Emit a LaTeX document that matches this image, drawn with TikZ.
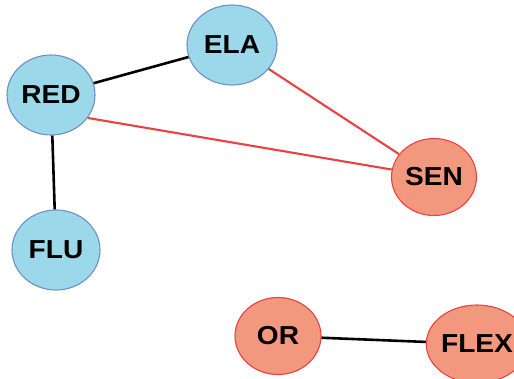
\documentclass[tikz,border=0pt]{standalone}
\usepackage{fontspec}
\setmainfont[FakeStretch=1.08]{Liberation Sans}
\usepackage{tikz}
\usetikzlibrary{shapes.geometric}
\definecolor{bluefill}{RGB}{155,216,234}
\definecolor{blueline}{RGB}{112,142,200}
\definecolor{redfill}{RGB}{242,152,126}
\definecolor{redline}{RGB}{232,66,66}
\tikzstyle{blue node}=[ellipse, draw=blueline, fill=bluefill, line width=1.1pt, inner sep=0pt,
  font=\fontsize{26}{26}\selectfont\bfseries]
\tikzstyle{red node}=[blue node, draw=redline, fill=redfill]
\tikzset{black edge/.style={line width=2.6pt, black},
  red edge/.style={line width=2.1pt, redline}}

\begin{document}
\begin{tikzpicture}[x=1pt,y=-1pt]
		\useasboundingbox (0,0) rectangle (514,379);
		\node[blue node, minimum width=88pt, minimum height=80pt] (RED) at (51,95) {RED};
		\node[blue node, minimum width=90pt, minimum height=80pt] (ELA) at (232,45) {ELA};
		\node[blue node, minimum width=88pt, minimum height=80pt] (FLU) at (56,250) {FLU};
		\node[red node, minimum width=85pt, minimum height=77pt] (SEN) at (434,177) {SEN};
		\node[red node, minimum width=86pt, minimum height=77pt] (OR) at (278,336) {OR};
		\node[red node, minimum width=88pt, minimum height=78pt] (FLEX) at (477,344) {FLEX};
		% links
		\draw[black edge] (RED) -- (ELA);
		\draw[black edge] (RED) -- (FLU);
		\draw[red edge] (RED.-32) -- (SEN.170);
		\draw[red edge] (ELA) -- (SEN);
		\draw[black edge] (OR) -- (FLEX);
		\end{tikzpicture}
\end{document}
